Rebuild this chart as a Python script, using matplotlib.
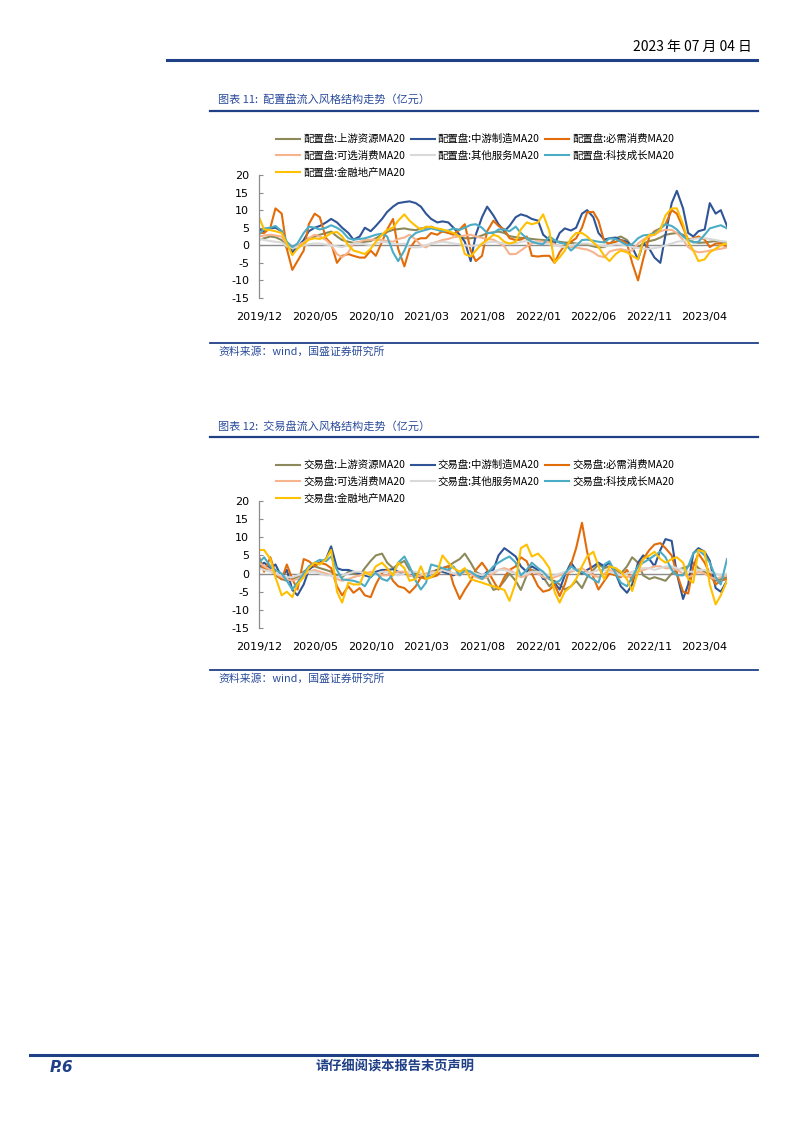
import numpy as np
import pandas as pd
import matplotlib
matplotlib.use("Agg")
import matplotlib.pyplot as plt
import matplotlib.dates as mdates
from matplotlib.lines import Line2D

plt.rcParams['font.family'] = ['Noto Sans CJK SC', 'DejaVu Sans']
plt.rcParams['axes.unicode_minus'] = False

# ---------------- data ----------------
dates = pd.date_range('2019-12-01', periods=85, freq='SMS')
tick_dates = pd.to_datetime(['2019-12-01', '2020-05-01', '2020-10-01', '2021-03-01', '2021-08-01',
                             '2022-01-01', '2022-06-01', '2022-11-01', '2023-04-01'])
tick_labels = ['2019/12', '2020/05', '2020/10', '2021/03', '2021/08',
               '2022/01', '2022/06', '2022/11', '2023/04']
sectors = ['上游资源', '中游制造', '必需消费', '可选消费', '其他服务', '科技成长', '金融地产']
colors = ['#8C8A5A', '#2F5597', '#E36C0A', '#F7B38E', '#D9D9D9', '#4BACC6', '#FFC000']

# chart 1: 配置盘
c1_up = [1.6, 2.0, 2.5, 2.3, 1.5, -0.8, -1.0, -0.5, 1.0, 2.0,
         2.5, 3.0, 3.5, 3.9, 2.5, 1.5, 1.0, 0.7, 0.8, 1.0,
         1.2, 2.0, 3.0, 3.8, 4.4, 4.6, 4.8, 4.5, 4.3, 4.8,
         5.0, 5.3, 4.5, 3.9, 3.6, 3.4, 2.5, 2.0, 2.0, 2.2,
         2.8, 3.4, 3.7, 3.9, 3.5, 2.6, 2.3, 2.1, 2.0, 1.8,
         1.6, 1.5, 1.3, 1.2, 1.0, 0.8, 0.7, 0.5, 0.3, 0.2,
         -0.3, -0.6, -0.5, 0.3, 2.0, 2.5, 1.5, -0.5, -0.6, 0.5,
         1.2, 1.5, 2.2, 3.0, 3.3, 3.5, 3.0, 1.8, 1.0, 0.7,
         0.8, 1.0, 1.2, 1.0, 0.7]
c1_mid = [4.5, 4.0, 4.8, 5.0, 4.0, 0.5, -2.0, -0.5, 1.5, 4.0,
          5.0, 5.5, 6.5, 7.5, 6.5, 5.0, 3.5, 1.6, 2.5, 5.0,
          4.0, 5.5, 7.5, 9.5, 11.0, 12.0, 12.3, 12.5, 12.0, 11.0,
          9.0, 7.5, 6.5, 6.8, 6.5, 5.0, 3.0, 1.0, -4.5, 3.0,
          8.0, 11.0, 8.5, 6.0, 4.0, 5.5, 8.0, 8.8, 8.3, 7.5,
          7.0, 3.0, 1.5, 0.3, 3.5, 4.8, 4.2, 5.0, 9.0, 10.0,
          8.0, 3.5, 1.6, 2.0, 2.2, 1.5, 1.0, -0.5, -4.0, 0.5,
          -1.0, -3.5, -5.0, 3.0, 12.0, 15.5, 10.5, 3.5, 2.5, 4.0,
          4.5, 12.0, 9.0, 10.0, 5.5]
c1_ess = [3.5, 3.5, 5.0, 10.5, 9.0, -1.0, -7.0, -4.5, -1.5, 6.0,
          9.0, 8.0, 2.0, 0.5, -5.0, -3.0, -2.5, -3.0, -3.5, -3.5,
          -1.5, -3.0, 1.0, 4.5, 7.5, -1.0, -6.0, -1.0, 1.5, 2.0,
          2.0, 3.5, 3.0, 4.0, 3.5, 3.0, 4.5, 6.0, -1.5, -4.5,
          -3.0, 4.0, 7.0, 5.5, 4.5, 2.0, 1.5, 1.6, 2.5, -3.0,
          -3.2, -3.0, -3.0, -5.0, -2.0, 0.0, 1.0, 2.0, 5.0, 9.4,
          9.5, 7.0, 1.0, 0.5, 1.0, 1.5, 0.5, -5.0, -10.0, -4.0,
          2.5, 4.0, 4.8, 6.0, 10.0, 9.0, 5.0, 1.5, 2.0, 2.5,
          1.6, -0.5, 0.5, 0.5, -0.5]
c1_opt = [2.5, 2.8, 3.0, 2.8, 2.5, 0.5, -0.6, 0.0, 0.8, 2.0,
          3.0, 2.5, 1.5, 0.0, -2.5, -3.4, -2.0, 0.5, 1.0, 1.5,
          1.6, 1.6, 1.5, 1.2, 1.0, 1.8, 2.2, 3.0, 1.6, 0.0,
          -0.6, 0.5, 1.0, 1.5, 1.8, 2.3, 2.5, 2.8, 3.0, 2.5,
          2.1, 1.8, 1.6, 0.8, -0.3, -2.5, -2.5, -1.5, -0.3, 0.5,
          1.2, 1.0, 0.8, 0.3, -0.2, -0.5, -0.5, -0.6, -1.0, -1.2,
          -2.0, -3.0, -3.4, -1.8, -1.3, -1.1, -1.5, -1.5, 0.5, 1.6,
          2.5, 3.0, 4.0, 4.4, 4.4, 3.5, 1.5, -0.5, -1.5, -2.0,
          -1.8, -1.5, -1.2, -1.0, -0.6]
c1_oth = [2.0, 1.5, 1.2, 1.0, 0.8, -0.3, -0.8, -0.5, 0.0, 0.3,
          0.5, 0.5, 0.2, 0.0, -0.3, -0.5, 0.0, 0.5, 0.5, 0.3,
          0.0, 0.5, 1.0, 0.8, 0.5, 0.3, 0.5, -0.5, -0.6, -0.5,
          0.0, 0.5, 0.8, 1.0, 0.8, 0.5, 0.3, 0.0, -0.2, 0.0,
          0.3, 0.8, 1.0, 0.8, 0.5, 0.3, 0.5, 1.0, 1.2, 1.0,
          0.8, 0.5, 0.3, 0.0, -0.3, -0.5, 0.0, 0.3, 0.5, 0.5,
          0.2, 0.0, -0.3, 0.0, 0.3, 0.2, 0.0, -0.5, -0.8, -1.0,
          -1.0, -0.8, -0.5, 0.0, 0.5, 1.0, 1.2, 1.5, 1.8, 2.0,
          2.0, 1.8, 1.5, 1.2, 1.0]
c1_tech = [3.0, 4.8, 5.0, 5.5, 4.0, 1.0, -0.5, 0.5, 3.5, 5.3,
           5.0, 4.5, 5.0, 5.7, 5.0, 4.0, 2.0, 1.6, 1.8, 2.0,
           2.5, 3.0, 3.3, 2.5, -2.0, -4.5, -1.5, 2.0, 3.5, 4.0,
           4.4, 4.8, 4.4, 4.0, 4.2, 4.8, 4.4, 5.0, 5.8, 6.0,
           5.0, 3.5, 3.5, 4.5, 4.5, 4.0, 5.3, 3.5, 2.0, 1.0,
           0.5, 0.3, 2.5, 1.5, 0.7, 0.5, -1.5, -0.2, 1.5, 1.6,
           1.3, 1.0, 0.8, 2.0, 1.8, 1.0, 0.0, 0.3, 2.0, 2.8,
           3.0, 3.5, 4.8, 6.0, 5.5, 4.5, 2.5, 1.5, 0.8, 1.0,
           3.0, 4.8, 5.3, 5.7, 4.8]
c1_fin = [8.0, 4.5, 4.3, 4.0, 3.5, 0.5, -2.8, -1.0, 0.5, 1.6,
          2.0, 1.8, 2.5, 3.5, 3.8, 2.5, 0.0, -1.5, -2.0, -2.5,
          -1.0, 1.0, 3.0, 4.4, 5.0, 7.0, 8.8, 7.0, 5.5, 4.5,
          5.3, 5.2, 4.8, 4.5, 4.0, 3.5, 2.5, -2.5, -3.2, -1.5,
          0.5, 1.5, 3.0, 2.5, 1.0, 0.5, 1.0, 4.5, 6.5, 6.0,
          6.5, 8.8, 4.0, -5.0, -3.4, -1.5, 2.0, 3.5, 3.5, 2.5,
          0.8, -0.5, -3.0, -4.5, -2.5, -1.5, -2.0, -3.0, -4.0, 1.0,
          3.0, 3.0, 4.5, 8.5, 10.5, 10.5, 6.0, 1.0, -1.5, -4.5,
          -4.0, -2.0, -1.0, 0.0, 0.5]

# chart 2: 交易盘
c2_up = [2.0, 1.5, 1.0, -0.5, -1.5, -2.0, -1.5, -1.0, 0.5, 1.5,
         2.0, 1.5, 1.0, 0.5, -0.5, -1.0, 0.5, 0.0, -0.5, 1.5,
         3.5, 5.0, 5.5, 3.0, 1.5, 2.5, 3.5, 1.0, 0.0, -1.0,
         -0.5, 0.5, 1.0, 1.5, 2.0, 3.0, 4.0, 5.5, 3.0, 0.5,
         -0.5, -1.0, -4.5, -4.0, -2.0, 0.0, -2.0, -4.5, -0.5, 1.0,
         0.5, -1.0, -3.5, -2.0, -3.0, -4.4, -3.5, -2.0, -4.0, -1.0,
         1.0, 2.5, 1.5, 2.0, 1.0, 0.0, 2.0, 4.5, 3.0, -0.5,
         -1.5, -1.0, -1.5, -2.0, 0.0, 1.0, 1.5, 2.0, 3.0, 1.5,
         0.5, -1.0, -2.0, -1.5, -1.0]
c2_mid = [2.0, 3.0, 1.5, 2.5, -1.0, 1.0, -4.5, -6.0, -3.0, 1.0,
          2.5, 3.0, 4.0, 7.5, 1.5, 1.0, 1.0, 0.5, 0.0, -0.5,
          -1.0, 0.5, 1.0, 1.0, 1.2, 0.5, 0.0, -0.5, -0.8, -1.0,
          -1.2, 0.0, 1.0, 0.5, 0.0, -0.5, 0.5, 1.0, 0.5, -0.5,
          -0.8, 0.5, 1.0, 5.0, 7.0, 6.0, 4.7, 2.0, 0.5, 2.0,
          1.0, -1.5, -1.0, -2.5, -4.4, -0.5, 3.0, 1.0, 0.0, 1.0,
          2.0, 3.0, 2.0, 3.0, 0.0, -3.5, -5.3, -3.0, 3.0, 5.0,
          4.0, 2.0, 6.5, 9.5, 9.0, 0.0, -7.0, -3.0, 5.6, 7.0,
          6.0, 3.5, -4.0, -5.0, -2.0]
c2_ess = [4.7, 0.5, 4.5, 0.0, -1.6, 2.5, -1.5, -4.4, 4.0, 3.4,
          2.0, 3.0, 2.5, 1.5, -3.5, -6.0, -3.5, -5.3, -4.0, -6.0,
          -6.5, -3.0, 0.2, 1.0, -2.0, -3.5, -4.0, -5.3, -3.5, -1.0,
          -1.5, -1.0, -0.5, 1.5, 2.0, -3.0, -7.0, -4.5, -2.0, 1.0,
          3.0, 1.0, -2.0, -4.4, -1.0, 1.0, 2.0, 4.5, 3.4, 0.0,
          -3.5, -5.0, -4.5, -3.0, -6.2, -3.0, 2.5, 7.0, 14.0, 6.0,
          -1.0, -4.4, -2.0, 0.0, -0.5, -1.0, 1.0, -2.0, 2.0, 4.0,
          6.5, 8.0, 8.4, 7.0, 5.0, 0.0, -5.0, -5.5, 2.0, 5.5,
          3.0, 0.0, -3.0, -2.0, -1.5]
c2_opt = [3.0, 2.0, 1.0, 0.0, -1.0, -1.5, -2.0, -1.5, -0.5, 0.5,
          1.0, 0.5, 0.0, -0.5, -1.5, -2.0, -1.5, -1.0, -0.5, 0.0,
          0.5, 0.0, -0.5, -0.5, 0.0, 0.5, 0.5, -0.5, -1.0, -0.5,
          0.0, 0.5, 0.5, 1.0, 0.5, 0.0, -0.5, 0.5, 0.0, -1.0,
          -1.5, -1.0, 0.0, 1.0, 1.5, 1.0, 0.0, -1.0, -0.5, 0.5,
          0.0, -1.0, -1.5, -1.0, -0.5, 0.0, 0.5, 1.0, 1.5, 0.5,
          -0.5, -1.0, 0.0, 1.0, 0.5, -0.5, -1.0, -0.5, 0.5, 1.0,
          1.5, 2.0, 2.0, 1.5, 1.5, 1.0, 0.0, -1.0, -0.5, 0.5,
          0.0, -1.0, -1.5, -1.0, -0.5]
c2_oth = [1.5, 1.0, 0.5, 0.0, -0.5, -1.0, -1.0, -0.5, 0.0, 0.5,
          0.5, 0.0, -0.5, -0.5, -1.0, -0.5, 0.0, 0.5, 0.5, 0.0,
          -0.5, 0.0, 0.5, 0.5, 0.0, -0.5, 0.0, 0.5, 0.5, 0.0,
          -0.5, 0.0, 0.5, 1.0, 0.5, 0.0, 0.5, 1.0, 0.5, 0.0,
          -0.5, 0.0, 0.5, 1.0, 1.0, 0.5, 0.0, -0.5, 0.0, 0.5,
          0.5, 0.0, -0.5, -0.5, 0.0, 0.5, 1.0, 1.0, 0.5, 0.0,
          0.5, 1.0, 1.0, 0.5, 0.0, -0.5, 0.0, 0.5, 1.0, 1.5,
          1.5, 1.0, 1.5, 2.0, 2.0, 1.5, 1.0, 0.5, 0.5, 1.0,
          1.0, 0.5, 0.0, -0.5, 0.0]
c2_tech = [3.0, 4.5, 2.0, 1.0, 0.0, -2.0, -4.4, -2.5, 0.0, 2.0,
           3.0, 3.8, 3.4, 4.7, 1.0, -1.6, -1.8, -2.0, -2.5, -3.5,
           -0.8, 0.2, -1.5, -2.0, -0.3, 3.0, 4.7, 2.0, -2.0, -4.4,
           -2.5, 2.5, 2.0, 1.5, 1.0, 2.0, -0.5, 1.0, 0.5, -0.5,
           -1.5, 0.0, 2.0, 3.0, 4.0, 4.7, 3.0, -0.5, 1.0, 3.0,
           1.5, 0.5, -1.5, -2.5, -2.0, 0.0, 2.0, 1.0, 0.5, -0.5,
           -1.6, -2.5, 2.5, 3.4, 0.0, -2.5, -3.5, -1.0, 2.0, 3.0,
           4.0, 5.0, 6.0, 4.5, 1.0, -0.5, -0.5, 2.0, 5.6, 6.5,
           5.0, 3.0, -1.0, -3.0, 4.0]
c2_fin = [6.5, 6.5, 4.0, -1.0, -6.0, -5.0, -6.5, -3.0, -1.0, 1.5,
          3.0, 2.5, 4.0, 6.5, -5.0, -8.0, -2.5, -3.0, -3.0, 0.5,
          -0.5, 2.0, 3.0, 1.5, -0.5, 3.0, 1.5, -2.0, -1.5, 2.0,
          -1.5, -1.0, 0.5, 5.0, 3.0, 1.5, 0.5, 1.5, -1.5, -2.0,
          -2.5, -3.0, -3.5, -4.0, -4.5, -7.5, -2.5, 7.0, 8.0, 4.7,
          5.5, 4.0, 1.5, -5.0, -8.0, -5.0, -3.5, -1.5, 2.0, 4.7,
          6.0, 2.0, -1.6, 2.0, 1.5, 0.5, -1.6, -4.8, 0.5, 4.0,
          5.0, 6.0, 4.0, 3.0, 4.0, 4.5, 3.0, -1.5, -2.5, 6.5,
          6.0, -3.0, -8.5, -6.0, -2.0]

chart1_series = [c1_up, c1_mid, c1_ess, c1_opt, c1_oth, c1_tech, c1_fin]
chart2_series = [c2_up, c2_mid, c2_ess, c2_opt, c2_oth, c2_tech, c2_fin]

# ---------------- layout ----------------
W, H = 802, 1133
fig = plt.figure(figsize=(W / 100, H / 100), dpi=100)
BLUE = '#1F3F86'
TXT_BLUE = '#2B4C9B'


def fx(px):
    return px / W


def fy(py):
    return 1 - py / H


def hline(y, x0, x1, lw, color=BLUE):
    fig.add_artist(Line2D([fx(x0), fx(x1)], [fy(y), fy(y)], color=color, lw=lw,
                          transform=fig.transFigure))


# header
fig.text(fx(752), fy(47), '2023 年 07 月 04 日', ha='right', va='center', fontsize=10,
         color='black')
hline(60, 167, 757, 2.2)


def make_chart(top, bottom, title, prefix, series_list, title_y, tline_y, leg_top, src_line_y):
    fig.text(fx(218), fy(title_y), title, ha='left', va='center', fontsize=8,
             color=TXT_BLUE, style='italic')
    hline(tline_y, 210, 758, 1.6)
    ax = fig.add_axes([fx(259), fy(bottom), fx(727) - fx(259), fy(top) - fy(bottom)])
    ax.axhline(0, color='#8C8C8C', lw=1.0, zorder=1)
    handles = []
    for s, name, c in zip(series_list, sectors, colors):
        ln, = ax.plot(dates, s, color=c, lw=1.5, label=f'{prefix}:{name}MA20', zorder=2,
                      solid_joinstyle='round')
        handles.append(ln)
    ax.set_ylim(-15, 20)
    ax.set_yticks([-15, -10, -5, 0, 5, 10, 15, 20])
    ax.set_xlim(dates[0], dates[-1])
    ax.set_xticks(tick_dates)
    ax.set_xticklabels(tick_labels)
    for sp in ['top', 'right', 'bottom']:
        ax.spines[sp].set_visible(False)
    ax.spines['left'].set_color('#8C8C8C')
    ax.spines['left'].set_linewidth(0.9)
    ax.tick_params(axis='y', direction='in', length=3, color='#8C8C8C', labelsize=8,
                   pad=7, labelcolor='black')
    ax.tick_params(axis='x', length=0, labelsize=8, pad=10, labelcolor='black')
    for lab in ax.get_xticklabels() + ax.get_yticklabels():
        lab.set_family('DejaVu Sans')
    order = [0, 3, 6, 1, 4, 2, 5]
    fig.legend([handles[i] for i in order], [handles[i].get_label() for i in order],
               ncol=3, loc='upper left', bbox_to_anchor=(fx(276), fy(leg_top)),
               frameon=False, fontsize=7.5, handlelength=2.3, handletextpad=0.3,
               columnspacing=0.55, labelspacing=0.62, borderaxespad=0, borderpad=0)
    hline(src_line_y, 210, 758, 1.3)
    fig.text(fx(218), fy(src_line_y + 9), '资料来源：wind，国盛证券研究所', ha='left', va='center',
             fontsize=7.8, color=TXT_BLUE, style='italic')
    return ax


make_chart(175, 298, '图表 11:  配置盘流入风格结构走势（亿元）', '配置盘', chart1_series,
           99, 111, 134, 343)
make_chart(501, 628, '图表 12:  交易盘流入风格结构走势（亿元）', '交易盘', chart2_series,
           426, 437, 460, 670)

# footer
hline(1055, 30, 757, 2.2)
fig.text(fx(50), fy(1067), 'P.6', ha='left', va='center', fontsize=11, color=BLUE,
         weight='bold', style='italic', family='DejaVu Sans')
fig.text(fx(395), fy(1067), '请仔细阅读本报告末页声明', ha='center', va='center', fontsize=9.5,
         color=BLUE, weight='bold', style='italic')

fig.savefig('out.png', dpi=100)
